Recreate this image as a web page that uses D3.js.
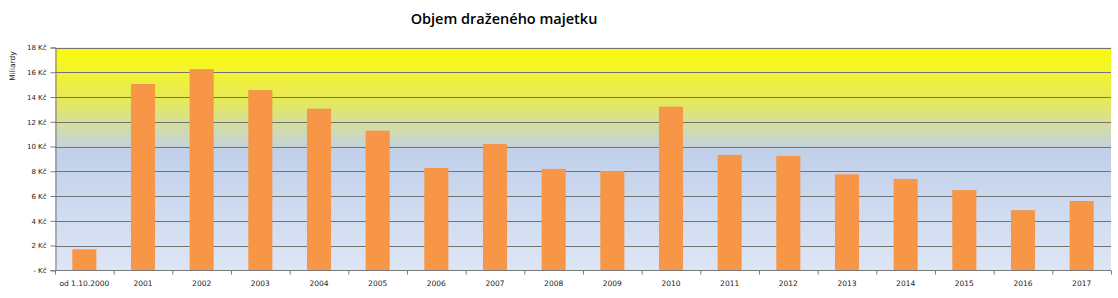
<!DOCTYPE html>
<html>
<head>
<meta charset="utf-8">
<script src="https://cdn.jsdelivr.net/npm/d3@7"></script>
<style>
  html, body { margin: 0; padding: 0; background: #fff; }
  svg { display: block; }
</style>
</head>
<body>
<svg id="chart" width="1118" height="298"></svg>
<script>
const categories = ["od 1.10.2000","2001","2002","2003","2004","2005","2006","2007","2008","2009","2010","2011","2012","2013","2014","2015","2016","2017"];
const values = [1.7, 15.05, 16.25, 14.57, 13.06, 11.28, 8.27, 10.2, 8.19, 8.02, 13.22, 9.32, 9.24, 7.76, 7.38, 6.48, 4.86, 5.6];
const yTicks = [0, 2, 4, 6, 8, 10, 12, 14, 16, 18];
const yTickLabels = ["- Kč", "2 Kč", "4 Kč", "6 Kč", "8 Kč", "10 Kč", "12 Kč", "14 Kč", "16 Kč", "18 Kč"];
const title = "Objem draženého majetku";
const yTitle = "Miliardy";

const svg = d3.select("#chart");
const pLeft = 55, pRight = 1111, pTop = 47.5, pBottom = 270.3;

const x = d3.scaleBand().domain(categories).range([pLeft, pRight]).paddingInner(0.59).paddingOuter(0.295);
const xb = d3.scaleBand().domain(categories).range([pLeft, pRight]);
const y = d3.scaleLinear().domain([0, 18]).range([pBottom, pTop]);

const defs = svg.append("defs");
const grad = defs.append("linearGradient").attr("id", "bg").attr("x1", 0).attr("y1", 0).attr("x2", 0).attr("y2", 1);
[[0, "#fbfb08"], [0.1, "#f4f42c"], [0.25, "#e4e860"], [0.36, "#d2dca8"], [0.47, "#c1d0ea"], [1, "#dde6f5"]]
  .forEach(([o, c]) => grad.append("stop").attr("offset", o).attr("stop-color", c));

svg.append("rect").attr("x", pLeft).attr("y", pTop).attr("width", pRight - pLeft).attr("height", pBottom - pTop).attr("fill", "url(#bg)");

// gridlines
svg.append("g").selectAll("line").data(yTicks.filter(d => d > 0)).join("line")
  .attr("x1", pLeft).attr("x2", pRight)
  .attr("y1", d => Math.round(y(d)) + 0.5).attr("y2", d => Math.round(y(d)) + 0.5)
  .attr("stroke", "#737373").attr("stroke-width", 1);

// bars
svg.append("g").selectAll("rect").data(values).join("rect")
  .attr("x", (d, i) => x(categories[i]))
  .attr("width", x.bandwidth())
  .attr("y", d => y(d))
  .attr("height", d => y(0) - y(d))
  .attr("fill", "#f79646");

// y axis
const yAxis = d3.axisLeft(y).tickValues(yTicks).tickFormat((d, i) => yTickLabels[i]).tickSize(5).tickPadding(4);
const gy = svg.append("g").attr("transform", `translate(${pLeft + 0.5},0)`).call(yAxis);
gy.select(".domain").attr("stroke", "#7a7a7a");
gy.selectAll(".tick line").attr("stroke", "#7a7a7a");
gy.selectAll("text").attr("font-family", "DejaVu Sans").attr("font-size", 7).attr("fill", "#222");

// x axis
const gx = svg.append("g").attr("transform", `translate(0,${Math.round(pBottom) + 0.5})`);
gx.append("line").attr("x1", pLeft).attr("x2", pRight).attr("stroke", "#7a7a7a");
gx.selectAll(".tk").data(categories.concat(["_end"])).join("line")
  .attr("x1", d => (d === "_end" ? pRight : xb(d)) + 0.5)
  .attr("x2", d => (d === "_end" ? pRight : xb(d)) + 0.5)
  .attr("y1", 0).attr("y2", 4).attr("stroke", "#7a7a7a");
gx.selectAll("text").data(categories).join("text")
  .attr("x", d => xb(d) + xb.bandwidth() / 2)
  .attr("y", 15.5)
  .attr("text-anchor", "middle")
  .attr("font-family", "DejaVu Sans").attr("font-size", 7.5).attr("fill", "#222")
  .text(d => d);

// y title
svg.append("text").attr("transform", "translate(15,66) rotate(-90)")
  .attr("text-anchor", "middle").attr("font-family", "DejaVu Sans").attr("font-size", 7.5).attr("fill", "#222")
  .text(yTitle);

// title
svg.append("text").attr("x", 504).attr("y", 24).attr("text-anchor", "middle")
  .attr("font-family", "Open Sans").attr("font-size", 14.5).attr("font-weight", 600).attr("fill", "#000")
  .text(title);
</script>
</body>
</html>
